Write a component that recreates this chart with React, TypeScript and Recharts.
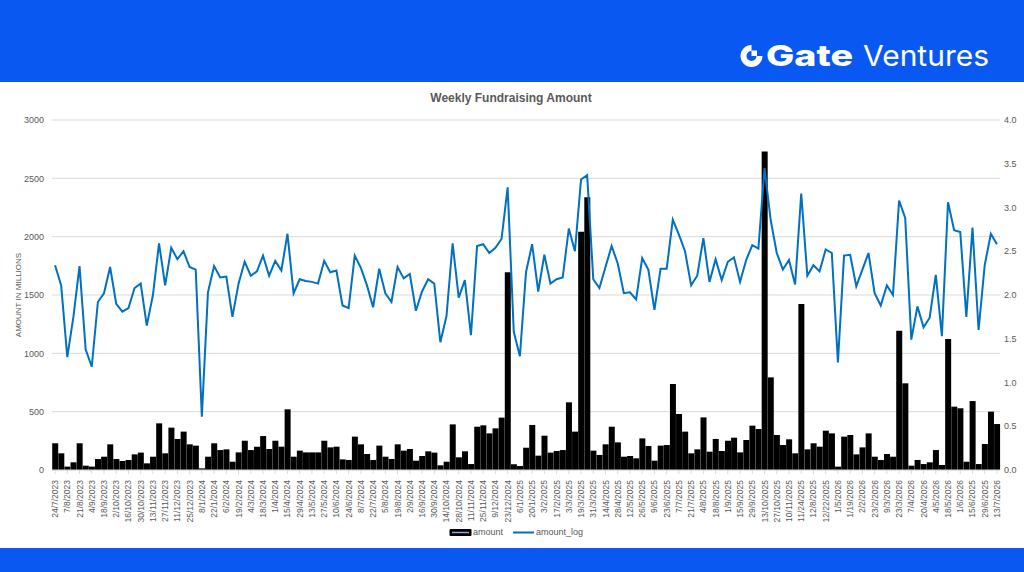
import React from "react";
import {
  ComposedChart,
  Bar,
  Line,
  XAxis,
  YAxis,
  CartesianGrid,
} from "recharts";

// weekly fundraising, USD millions
const amount = [
  229, 143, 29, 66, 229, 37, 29, 94, 114, 220,
  94, 77, 86, 134, 149, 57, 114, 400, 143, 363,
  266, 329, 220, 209, 14, 114, 229, 171, 177, 71,
  151, 251, 171, 200, 291, 180, 251, 200, 520, 114,
  166, 151, 151, 151, 251, 194, 200, 91, 86, 286,
  220, 137, 86, 209, 114, 94, 220, 166, 180, 80,
  120, 160, 149, 40, 71, 391, 109, 160, 51, 371,
  383, 314, 357, 449, 1694, 49, 34, 191, 386, 123,
  294, 149, 163, 171, 580, 329, 2043, 2337, 166, 129,
  220, 371, 237, 114, 120, 100, 271, 206, 80, 209,
  214, 737, 480, 329, 143, 177, 451, 157, 266, 163,
  251, 277, 151, 257, 380, 351, 2730, 794, 300, 214,
  263, 143, 1423, 177, 229, 200, 337, 314, 29, 286,
  300, 134, 194, 314, 114, 86, 137, 114, 1194, 743,
  37, 86, 51, 66, 171, 43, 1123, 543, 529, 71,
  591, 51, 223, 500, 394,
];

const amountLog = [
  2.34, 2.11, 1.29, 1.75, 2.33, 1.38, 1.18, 1.92, 2.02, 2.32,
  1.9, 1.81, 1.85, 2.08, 2.13, 1.65, 2.0, 2.59, 2.11, 2.54,
  2.41, 2.5, 2.32, 2.29, 0.61, 2.03, 2.33, 2.2, 2.21, 1.75,
  2.13, 2.38, 2.22, 2.27, 2.45, 2.22, 2.39, 2.28, 2.7, 2.02,
  2.18, 2.16, 2.15, 2.13, 2.39, 2.26, 2.28, 1.88, 1.85, 2.45,
  2.31, 2.11, 1.86, 2.3, 2.02, 1.92, 2.32, 2.19, 2.24, 1.82,
  2.04, 2.18, 2.13, 1.46, 1.76, 2.59, 1.97, 2.17, 1.54, 2.56,
  2.58, 2.48, 2.54, 2.64, 3.23, 1.58, 1.3, 2.26, 2.58, 2.04,
  2.46, 2.13, 2.18, 2.2, 2.76, 2.5, 3.32, 3.37, 2.18, 2.08,
  2.32, 2.56, 2.36, 2.02, 2.03, 1.95, 2.42, 2.29, 1.83, 2.3,
  2.3, 2.86, 2.69, 2.5, 2.11, 2.22, 2.65, 2.15, 2.41, 2.17,
  2.38, 2.43, 2.15, 2.4, 2.57, 2.53, 3.45, 2.86, 2.48, 2.29,
  2.4, 2.12, 3.16, 2.22, 2.34, 2.27, 2.52, 2.48, 1.23, 2.45,
  2.46, 2.1, 2.29, 2.48, 2.02, 1.88, 2.11, 2.0, 3.08, 2.88,
  1.49, 1.87, 1.63, 1.74, 2.23, 1.53, 3.06, 2.74, 2.72, 1.75,
  2.77, 1.6, 2.34, 2.7, 2.58,
];

// every other week is labelled on the axis
const tickLabels = [
  "24/7/2023", "7/8/2023", "21/8/2023", "4/9/2023", "18/9/2023", "2/10/2023", "16/10/2023", "30/10/2023", "13/11/2023", "27/11/2023",
  "11/12/2023", "25/12/2023", "8/1/2024", "22/1/2024", "6/2/2024", "19/2/2024", "4/3/2024", "18/3/2024", "1/4/2024", "15/4/2024",
  "29/4/2024", "13/5/2024", "27/5/2024", "10/6/2024", "24/6/2024", "8/7/2024", "22/7/2024", "5/8/2024", "19/8/2024", "2/9/2024",
  "16/9/2024", "30/9/2024", "14/10/2024", "28/10/2024", "11/11/2024", "25/11/2024", "9/12/2024", "23/12/2024", "6/1/2025", "20/1/2025",
  "3/2/2025", "17/2/2025", "3/3/2025", "19/3/2025", "31/3/2025", "14/4/2025", "28/4/2025", "12/5/2025", "26/5/2025", "9/6/2025",
  "23/6/2025", "7/7/2025", "21/7/2025", "4/8/2025", "18/8/2025", "1/9/2025", "15/9/2025", "29/9/2025", "13/10/2025", "27/10/2025",
  "10/11/2025", "11/24/2025", "12/8/2025", "12/22/2025", "1/5/2026", "1/19/2026", "2/2/2026", "23/2/2026", "9/3/2026", "23/3/2026",
  "7/4/2026", "20/4/2026", "4/5/2026", "18/5/2026", "1/6/2026", "15/6/2025", "29/6/2025", "13/7/2026",
];

const leftTicks = [0, 500, 1000, 1500, 2000, 2500, 3000];
const rightTicks = [0, 0.5, 1, 1.5, 2, 2.5, 3, 3.5, 4];

const BLUE = "#0a58f2";
const FONT = "'Liberation Sans', Arial, sans-serif";

const data = amount.map((a, i) => ({ week: i, amount: a, amount_log: amountLog[i] }));

function WeekTick({ x, y, payload }: any) {
  const label = tickLabels[payload.value / 2];
  if (!label) return null;
  return (
    <text
      x={0}
      y={0}
      transform={`translate(${x + 3},${y + 4}) rotate(-90)`}
      textAnchor="end"
      fontSize={8.5}
      fill="#595959"
      fontFamily={FONT}
    >
      {label}
    </text>
  );
}

function GateLogo() {
  const cx = 751.5;
  const cy = 56;
  return (
    <svg width={1024} height={82} style={{ position: "absolute", left: 0, top: 0 }}>
      {/* ring with the upper-right quarter cut away */}
      <path
        d={`M ${cx + 11} ${cy} A 11 11 0 1 1 ${cx} ${cy - 11} L ${cx} ${cy - 5} A 5 5 0 1 0 ${cx + 5} ${cy} Z`}
        fill="#fff"
      />
      <rect x={cx} y={cy - 5.5} width={5.5} height={5.5} fill="#fff" />
      <text x={766} y={66} fontSize={29} fontWeight={800} fill="#fff" fontFamily="Inter, sans-serif" textLength={87} lengthAdjust="spacingAndGlyphs">
        Gate
      </text>
      <text x={863} y={66} fontSize={29} fontWeight={400} fill="#fff" fontFamily="Inter, sans-serif" textLength={126} lengthAdjust="spacingAndGlyphs">
        Ventures
      </text>
    </svg>
  );
}

function ChartLegend() {
  return (
    <div style={{ position: "absolute", top: 527, left: 449, display: "flex", alignItems: "center", fontSize: 9, color: "#595959", fontFamily: FONT }}>
      <svg width={23} height={9}>
        <rect x={0.5} y={1} width={22} height={7} rx={1} fill="#000" />
        <line x1={3} y1={4.5} x2={20} y2={4.5} stroke="#8ea9db" strokeWidth={1.5} />
      </svg>
      <span style={{ marginLeft: 1 }}>amount</span>
      <svg width={22} height={9} style={{ marginLeft: 10 }}>
        <line x1={0} y1={4.5} x2={21} y2={4.5} stroke="#0070c0" strokeWidth={2} />
      </svg>
      <span style={{ marginLeft: 1 }}>amount_log</span>
    </div>
  );
}

export default function App() {
  return (
    <div style={styles.page}>
      <div style={styles.header} />
      <GateLogo />
      <div style={styles.title}>Weekly Fundraising Amount</div>
      <div style={styles.axisTitle}>AMOUNT IN MILLIONS</div>

      <div style={{ position: "absolute", left: 0, top: 0 }}>
        <ComposedChart
          width={1024}
          height={548}
          data={data}
          margin={{ top: 120, right: 0, left: 8, bottom: 18 }}
          barCategoryGap={0.2}
        >
          <CartesianGrid yAxisId="left" vertical={false} stroke="#d9d9d9" strokeWidth={1} />
          <XAxis
            dataKey="week"
            type="category"
            interval={1}
            height={60}
            tick={<WeekTick />}
            axisLine={{ stroke: "#d9d9d9" }}
            tickLine={{ stroke: "#d9d9d9" }}
            tickSize={4}
          />
          <YAxis
            yAxisId="left"
            orientation="left"
            domain={[0, 3000]}
            ticks={leftTicks}
            width={44}
            axisLine={false}
            tickLine={false}
            tickSize={0}
            tickMargin={8}
            tick={{ fontSize: 9, fill: "#595959", fontFamily: FONT }}
          />
          <YAxis
            yAxisId="right"
            orientation="right"
            domain={[0, 4]}
            ticks={rightTicks}
            width={24}
            axisLine={false}
            tickLine={false}
            tickSize={0}
            tickMargin={4}
            tickFormatter={(v: number) => v.toFixed(1)}
            tick={{ fontSize: 9, fill: "#595959", fontFamily: FONT }}
          />
          <Bar yAxisId="left" dataKey="amount" fill="#000" isAnimationActive={false} />
          <Line
            yAxisId="right"
            type="linear"
            dataKey="amount_log"
            stroke="#0070c0"
            strokeWidth={2}
            dot={false}
            activeDot={false}
            isAnimationActive={false}
          />
        </ComposedChart>
      </div>

      <ChartLegend />
      <div style={styles.footer} />
    </div>
  );
}

const styles = {
  page: {
    position: "absolute",
    left: 0,
    top: 0,
    width: 1024,
    height: 572,
    background: "#fff",
    overflow: "hidden",
    fontFamily: FONT,
  } as React.CSSProperties,
  header: { position: "absolute", left: 0, top: 0, width: 1024, height: 82, background: BLUE } as React.CSSProperties,
  footer: { position: "absolute", left: 0, top: 548, width: 1024, height: 24, background: BLUE } as React.CSSProperties,
  title: {
    position: "absolute",
    left: 0,
    width: 1022,
    top: 91,
    textAlign: "center",
    fontSize: 12,
    fontWeight: 700,
    color: "#595959",
  } as React.CSSProperties,
  axisTitle: {
    position: "absolute",
    left: 18,
    top: 295,
    transform: "translate(-50%, -50%) rotate(-90deg)",
    whiteSpace: "nowrap",
    fontSize: 8,
    color: "#595959",
  } as React.CSSProperties,
};
